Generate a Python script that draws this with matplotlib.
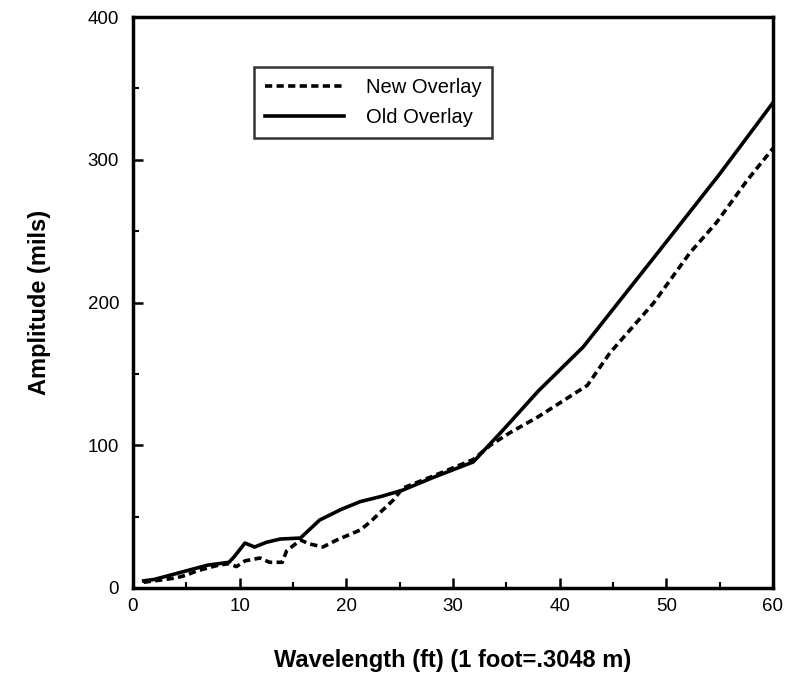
import matplotlib
matplotlib.use("Agg")
import matplotlib.pyplot as plt
from matplotlib.ticker import MultipleLocator

plt.rcParams['font.family'] = ['Liberation Sans', 'DejaVu Sans']

old_x = [1, 2, 3, 4, 5, 6, 7, 8, 9, 9.5, 10.5, 11.4, 12.5, 13.8, 15.7, 17.5, 19.5,
         21.3, 23.2, 25.3, 28, 31.9, 34.7, 38, 42.2, 49.4, 55, 60]
old_y = [5, 6, 8, 10, 12, 14, 16, 17, 18, 22, 31.5, 28.7, 32, 34.3, 35, 47.6, 55,
         60.5, 64, 68.6, 77, 88.3, 110.7, 138, 168.8, 236.8, 290, 340]

new_x = [1, 2, 3, 4, 5, 6, 7, 8, 9, 9.7, 10.5, 11.9, 12.8, 14, 14.4, 15.7, 16.5,
         17.8, 19.1, 21.3, 22.2, 24.4, 25.3, 28, 31.9, 33.5, 35.3, 38, 42.6, 44.7,
         48.8, 52.2, 54.7, 57.6, 60]
new_y = [4, 5, 6, 7, 9, 12, 14, 16, 17, 15, 19, 21, 18, 18, 26, 33.6, 31,
         28.7, 33.6, 40.6, 46, 61.6, 70, 78, 90, 100, 108.6, 120, 142, 164.6,
         199.6, 234.7, 256, 285.8, 308]

x_ticks = [0, 10, 20, 30, 40, 50, 60]
y_ticks = [0, 100, 200, 300, 400]

fig = plt.figure(figsize=(7.85, 6.75), dpi=100)
ax = fig.add_axes([0.1694, 0.1289, 0.8153, 0.8459])

ax.plot(new_x, new_y, color='black', lw=2.6, linestyle=(0, (2, 1.2)), label='New Overlay')
ax.plot(old_x, old_y, color='black', lw=2.6, linestyle='-', label='Old Overlay')

ax.set_xlim(0, 60)
ax.set_ylim(0, 400)
ax.set_xticks(x_ticks)
ax.set_yticks(y_ticks)
ax.xaxis.set_minor_locator(MultipleLocator(5))
ax.yaxis.set_minor_locator(MultipleLocator(50))
ax.tick_params(which='major', direction='in', length=7, width=1.8, labelsize=13.5, pad=7)
ax.tick_params(axis='y', which='major', pad=10)
ax.tick_params(which='minor', direction='in', length=4, width=1.5)
for s in ax.spines.values():
    s.set_linewidth(2.5)

ax.set_xlabel('Wavelength (ft) (1 foot=.3048 m)', fontsize=17, fontweight='bold', labelpad=25)
ax.set_ylabel('Amplitude (mils)', fontsize=17, fontweight='bold', labelpad=26)

leg = ax.legend(loc='upper left', bbox_to_anchor=(0.189, 0.912), fontsize=14.5,
                frameon=True, fancybox=False, handlelength=3.9, borderpad=0.55,
                labelspacing=0.55, handletextpad=1.1, borderaxespad=0)
leg.get_frame().set_edgecolor('black')
leg.get_frame().set_linewidth(1.8)

fig.savefig('out.png', dpi=100)
